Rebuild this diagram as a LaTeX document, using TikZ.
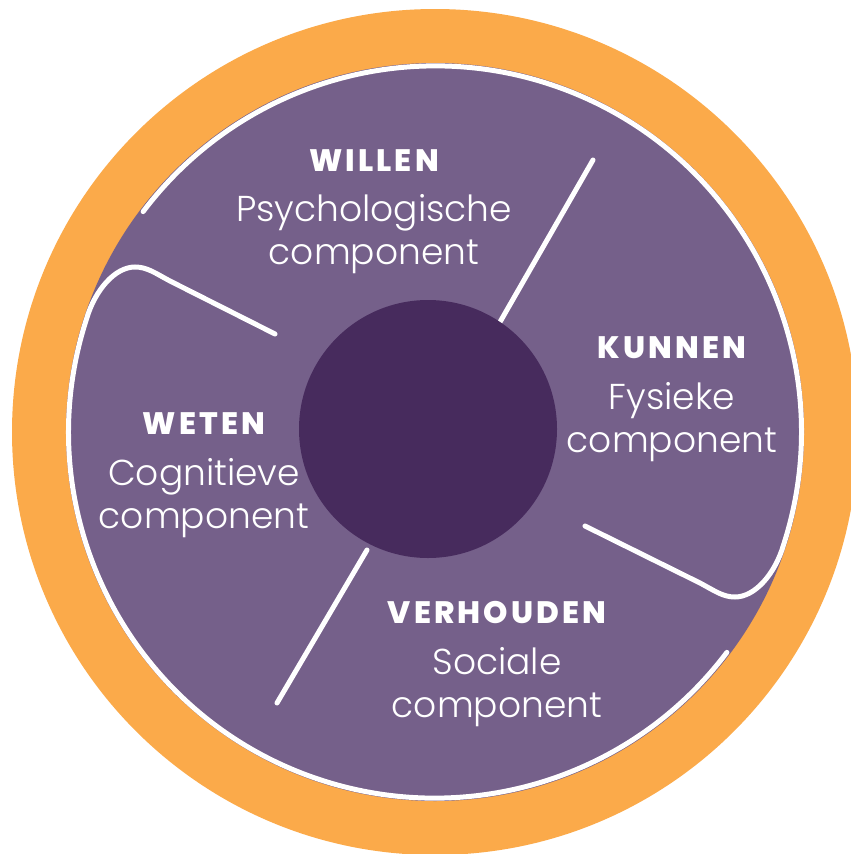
\documentclass[tikz,border=0pt]{standalone}
\usepackage{fontspec}
\IfFontExistsTF{Poppins Light}{\newfontfamily\sublight{Poppins Light}}{\newfontfamily\sublight{Poppins}}
\IfFontExistsTF{Poppins ExtraBold}{\newfontfamily\headbold{Poppins ExtraBold}[LetterSpace=10]}{\newfontfamily\headbold{Poppins}[LetterSpace=10,UprightFont=*,UprightFeatures={FakeBold=1.5}]}
\definecolor{orangec}{HTML}{FBAA4A}
\definecolor{purplec}{HTML}{75608A}
\definecolor{darkc}{HTML}{472B5D}
\tikzset{
  whiteline/.style={draw=white,line width=5pt,line cap=round},
  headtxt/.style={anchor=base,text=white,font=\headbold\fontsize{31}{33}\selectfont,inner sep=0pt},
  subtxt/.style={anchor=base,text=white,font=\sublight\fontsize{36}{40}\selectfont,inner sep=0pt}
}
\begin{document}
\begin{tikzpicture}[x=1pt,y=1pt]
\useasboundingbox (0,0) rectangle (851,-854);
\clip (0,0) rectangle (851,-854);
\coordinate (C) at (435,-432);
\fill[orangec] (C) circle[radius=423];
\fill[purplec] (C) circle[radius=369];
% ring pieces with hooks
\coordinate (hr) at (585,-526);
\coordinate (hl) at (275,-334);
\draw[whiteline] (hr) -- (700,-583) .. controls (715,-591) and (723,-597) .. (735,-597)
  .. controls (755,-597) and (775,-574) .. (783.5,-545) arc[start angle=-18,end angle=143,radius=366];
\draw[whiteline] (hl) -- (170,-281) .. controls (155,-273) and (147,-267) .. (135,-267)
  .. controls (115,-267) and (95,-290) .. (86.5,-319) arc[start angle=162,end angle=323,radius=366];
% straight dividers
\coordinate (d1a) at (500,-322);
\coordinate (d1b) at (593,-160);
\coordinate (d2a) at (367,-550);
\coordinate (d2b) at (277,-703);
\draw[whiteline] (d1a) -- (d1b);
\draw[whiteline] (d2a) -- (d2b);
% center
\fill[darkc] (428,-429) circle[radius=129];
% labels
\node[headtxt] (willen) at (374,-171) {WILLEN};
\node[subtxt] (willen1) at (374,-221) {Psychologische};
\node[subtxt] (willen2) at (374,-264) {component};
\node[headtxt] (kunnen) at (672,-358) {KUNNEN};
\node[subtxt] (kunnen1) at (672,-409) {Fysieke};
\node[subtxt] (kunnen2) at (672,-452) {component};
\node[headtxt] (weten) at (204,-434) {WETEN};
\node[subtxt] (weten1) at (204,-485) {Cognitieve};
\node[subtxt] (weten2) at (204,-528) {component};
\node[headtxt] (verh) at (497,-623) {VERHOUDEN};
\node[subtxt] (verh1) at (497,-674) {Sociale};
\node[subtxt] (verh2) at (497,-717) {component};
\end{tikzpicture}
\end{document}
